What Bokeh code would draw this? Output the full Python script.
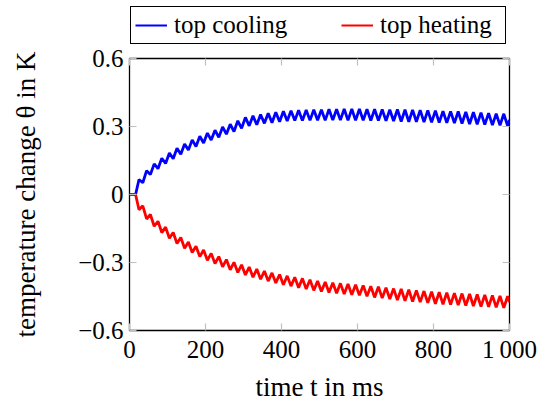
from bokeh.plotting import figure
from bokeh.layouts import column
from bokeh.models import Range1d, LinearAxis, FixedTicker, Legend, LegendItem
from bokeh.embed import file_html
from bokeh.resources import INLINE

# sample times (ms): start, onset, then alternating extremes every 10 ms, end
t = [0, 16] + list(range(25, 1000, 10)) + [1000]

top_cooling = [0.0, 0.0,
    0.066, 0.052, 0.105, 0.088, 0.135, 0.114, 0.160, 0.137, 0.183, 0.158,
    0.204, 0.178, 0.223, 0.196, 0.241, 0.212, 0.257, 0.227, 0.271, 0.240,
    0.284, 0.252, 0.298, 0.266, 0.310, 0.278, 0.325, 0.292, 0.340, 0.303,
    0.347, 0.308, 0.353, 0.314, 0.358, 0.317, 0.363, 0.321, 0.367, 0.324,
    0.369, 0.326, 0.372, 0.326, 0.373, 0.327, 0.374, 0.328, 0.374, 0.327,
    0.376, 0.328, 0.376, 0.328, 0.377, 0.327, 0.377, 0.327, 0.377, 0.327,
    0.376, 0.326, 0.376, 0.326, 0.375, 0.325, 0.374, 0.324, 0.375, 0.322,
    0.374, 0.321, 0.373, 0.321, 0.372, 0.319, 0.371, 0.318, 0.370, 0.317,
    0.368, 0.316, 0.367, 0.315, 0.366, 0.313, 0.364, 0.311, 0.363, 0.310,
    0.361, 0.308, 0.359, 0.306, 0.357, 0.305, 0.356, 0.303,
    0.329]

top_heating = [0.0, 0.0,
    -0.067, -0.050, -0.108, -0.088, -0.140, -0.118, -0.168, -0.144, -0.193, -0.168,
    -0.216, -0.190, -0.237, -0.210, -0.256, -0.228, -0.274, -0.245, -0.290, -0.260,
    -0.305, -0.274, -0.319, -0.287, -0.332, -0.299, -0.344, -0.310, -0.355, -0.320,
    -0.365, -0.329, -0.374, -0.338, -0.382, -0.346, -0.390, -0.353, -0.398, -0.359,
    -0.404, -0.365, -0.411, -0.370, -0.417, -0.376, -0.423, -0.382, -0.428, -0.386,
    -0.432, -0.389, -0.436, -0.392, -0.439, -0.395, -0.442, -0.398, -0.445, -0.401,
    -0.449, -0.405, -0.454, -0.407, -0.457, -0.411, -0.461, -0.415, -0.466, -0.417,
    -0.469, -0.420, -0.472, -0.423, -0.475, -0.426, -0.478, -0.429, -0.482, -0.431,
    -0.484, -0.433, -0.486, -0.435, -0.488, -0.437, -0.490, -0.439, -0.492, -0.441,
    -0.494, -0.443, -0.496, -0.445, -0.498, -0.447, -0.500, -0.449,
    -0.475]

x_ticks = [0, 200, 400, 600, 800, 1000]
x_tick_labels = ["0", "200", "400", "600", "800", "1\u2009000"]
y_ticks = [-0.6, -0.3, 0, 0.3, 0.6]
y_tick_labels = ["\u22120.6", "\u22120.3", "0", "0.3", "0.6"]
series_names = ["top cooling", "top heating"]
series_values = [top_cooling, top_heating]
series_colors = ["#0000ff", "#ff0000"]

FONT = "Liberation Serif"
FS = "25px"
LFS = "27px"
W = 548

# ---- main plot ----
p = figure(width=W, height=361, output_backend="svg", toolbar_location=None,
           x_range=Range1d(0, 1000), y_range=Range1d(-0.6, 0.6),
           min_border_left=129, min_border_right=W - 509,
           min_border_top=14, min_border_bottom=75,
           x_axis_label="time t in ms",
           y_axis_label="temperature change \u03b8 in K")
p.xgrid.visible = False
p.ygrid.visible = False
p.outline_line_color = "black"
p.outline_line_width = 1.3
p.outline_line_alpha = 1.0
p.background_fill_color = "white"
p.border_fill_color = "white"

for vals, col in zip(series_values, series_colors):
    p.line(t, vals, line_color=col, line_width=2.8)


def style(ax, ticks, labels):
    ax.ticker = FixedTicker(ticks=ticks)
    ax.major_label_overrides = {k: v for k, v in zip(ticks, labels)}
    ax.axis_line_color = None
    ax.major_tick_in = 7
    ax.major_tick_out = 0
    ax.major_tick_line_color = "#c0c0c0"
    ax.major_tick_line_width = 1.2
    ax.minor_tick_line_color = None
    ax.major_label_text_font = FONT
    ax.major_label_text_font_size = FS
    ax.major_label_text_color = "black"
    ax.axis_label_text_font = FONT
    ax.axis_label_text_font_size = LFS
    ax.axis_label_text_font_style = "normal"
    ax.axis_label_text_color = "black"


style(p.xaxis[0], x_ticks, x_tick_labels)
p.xaxis[0].major_label_standoff = 5
p.xaxis[0].axis_label_standoff = 6
style(p.yaxis[0], y_ticks, y_tick_labels)
p.yaxis[0].major_label_standoff = 6
p.yaxis[0].axis_label_standoff = 34

top_ax = LinearAxis()
style(top_ax, x_ticks, [""] * len(x_ticks))
top_ax.major_label_standoff = 0
top_ax.major_label_text_font_size = "1px"
right_ax = LinearAxis()
style(right_ax, y_ticks, [""] * len(y_ticks))
right_ax.major_label_standoff = 0
right_ax.major_label_text_font_size = "1px"
p.add_layout(top_ax, "above")
p.add_layout(right_ax, "right")

# ---- legend strip above the plot (series drawn off-range, only keys show) ----
lg = figure(width=W, height=44, output_backend="svg", toolbar_location=None,
            x_range=Range1d(0, 1000), y_range=Range1d(5, 6),
            x_axis_location=None, y_axis_location=None,
            min_border_left=129, min_border_right=0,
            min_border_top=5, min_border_bottom=0)
lg.xgrid.visible = False
lg.ygrid.visible = False
lg.outline_line_color = None
lg.background_fill_color = "white"
lg.border_fill_color = "white"
items = []
for name, vals, col in zip(series_names, series_values, series_colors):
    rr = lg.line(t, vals, line_color=col, line_width=2.2)
    items.append(LegendItem(label=name, renderers=[rr]))

legend = Legend(items=items, orientation="horizontal", location="top_left",
                margin=1, padding=4, spacing=46, glyph_width=32,
                glyph_height=24, label_width=121, label_height=24,
                label_standoff=7, label_text_font=FONT,
                label_text_font_size=FS, label_text_color="black",
                border_line_color="black", border_line_width=1.3,
                border_line_alpha=1.0, background_fill_color="white")
lg.add_layout(legend, "center")

layout = column(lg, p, spacing=0)
open("out.html", "w").write(file_html(layout, INLINE))
